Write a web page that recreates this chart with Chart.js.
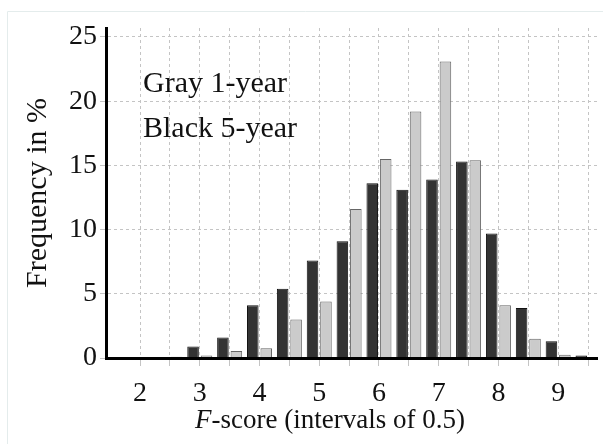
<!DOCTYPE html>
<html>
<head>
<meta charset="utf-8">
<script src="https://cdn.jsdelivr.net/npm/chart.js@4/dist/chart.umd.min.js"></script>
<style>
  body { margin: 0; background: #fff; }
</style>
</head>
<body>
<canvas id="c" width="603" height="444"></canvas>
<script>
// F-score bins (interval 0.5)
const bins = [2.0, 2.5, 3.0, 3.5, 4.0, 4.5, 5.0, 5.5, 6.0, 6.5, 7.0, 7.5, 8.0, 8.5, 9.0, 9.5];
// frequency in %
const fiveYear = [0, 0, 0.9, 1.6, 4.1, 5.4, 7.6, 9.1, 13.6, 13.1, 13.9, 15.3, 9.7, 3.9, 1.3, 0.2];
const oneYear = [0, 0.1, 0.2, 0.55, 0.75, 3.0, 4.4, 11.6, 15.5, 19.2, 23.1, 15.4, 4.1, 1.5, 0.25, 0];
const yTicks = [0, 5, 10, 15, 20, 25];
const legendLines = ['Gray 1-year', 'Black 5-year'];

const serif = "'Liberation Serif', 'Times New Roman', serif";

function pts(vals) {
  return bins.map((b, i) => ({ x: b, y: vals[i] }));
}

// frame, legend text and the x title (italic F)
const extras = {
  id: 'extras',
  beforeDraw(chart) {
    const ctx = chart.ctx;
    ctx.save();
    ctx.strokeStyle = '#e4ecec';
    ctx.lineWidth = 1;
    ctx.beginPath();
    ctx.moveTo(7.5, 444);
    ctx.lineTo(7.5, 11.5);
    ctx.lineTo(603, 11.5);
    ctx.stroke();
    ctx.restore();
  },
  afterDraw(chart) {
    const ctx = chart.ctx;
    ctx.save();
    ctx.fillStyle = '#111';
    ctx.textBaseline = 'alphabetic';
    ctx.textAlign = 'left';
    ctx.font = '30px ' + serif;
    ctx.fillText(legendLines[0], 143, 92);
    ctx.fillText(legendLines[1], 143, 137);

    const a = 'F', b = '-score (intervals of 0.5)';
    ctx.font = 'italic 27px ' + serif;
    const wa = ctx.measureText(a).width;
    ctx.font = '27px ' + serif;
    const wb = ctx.measureText(b).width;
    let x = 330 - (wa + wb) / 2;
    ctx.font = 'italic 27px ' + serif;
    ctx.fillText(a, x, 428);
    ctx.font = '27px ' + serif;
    ctx.fillText(b, x + wa, 428);
    ctx.restore();
  }
};

new Chart(document.getElementById('c'), {
  type: 'bar',
  data: {
    datasets: [
      {
        label: '5-year',
        data: pts(fiveYear),
        backgroundColor: '#333333',
        borderColor: '#111111',
        borderWidth: 1,
        categoryPercentage: 0.9,
        barPercentage: 0.86
      },
      {
        label: '1-year',
        data: pts(oneYear),
        backgroundColor: '#cbcbcb',
        borderColor: '#666666',
        borderWidth: 1,
        categoryPercentage: 0.9,
        barPercentage: 0.86
      }
    ]
  },
  options: {
    responsive: false,
    animation: false,
    layout: { padding: { top: 28, right: 6, left: 0, bottom: 0 } },
    plugins: {
      legend: { display: false },
      tooltip: { enabled: false }
    },
    scales: {
      x: {
        type: 'linear',
        min: 1.43,
        max: 9.65,
        offset: false,
        afterBuildTicks: (scale) => {
          scale.ticks = bins.map(v => ({ value: v }));
        },
        afterFit: (scale) => { scale.height = 86; },
        ticks: {
          autoSkip: false,
          maxRotation: 0,
          padding: 11,
          color: '#111',
          font: { family: serif, size: 28 },
          callback: (v) => Number.isInteger(v) ? String(v) : ''
        },
        grid: { offset: false, color: '#c4c4c4', lineWidth: 1, tickLength: 8 },
        border: { color: '#000', width: 3, dash: [3, 3], z: 1 }
      },
      y: {
        min: 0,
        max: 25.7,
        afterBuildTicks: (scale) => {
          scale.ticks = yTicks.map(v => ({ value: v }));
        },
        afterFit: (scale) => { scale.width = 106; },
        ticks: {
          padding: 3,
          color: '#111',
          font: { family: serif, size: 28 }
        },
        grid: { color: '#c4c4c4', lineWidth: 1, tickLength: 6 },
        border: { color: '#000', width: 3, dash: [3, 3], z: 1 },
        title: {
          display: true,
          text: 'Frequency in %',
          color: '#111',
          font: { family: serif, size: 30 },
          padding: { top: 20, bottom: 0 }
        }
      }
    }
  },
  plugins: [extras]
});
</script>
</body>
</html>
